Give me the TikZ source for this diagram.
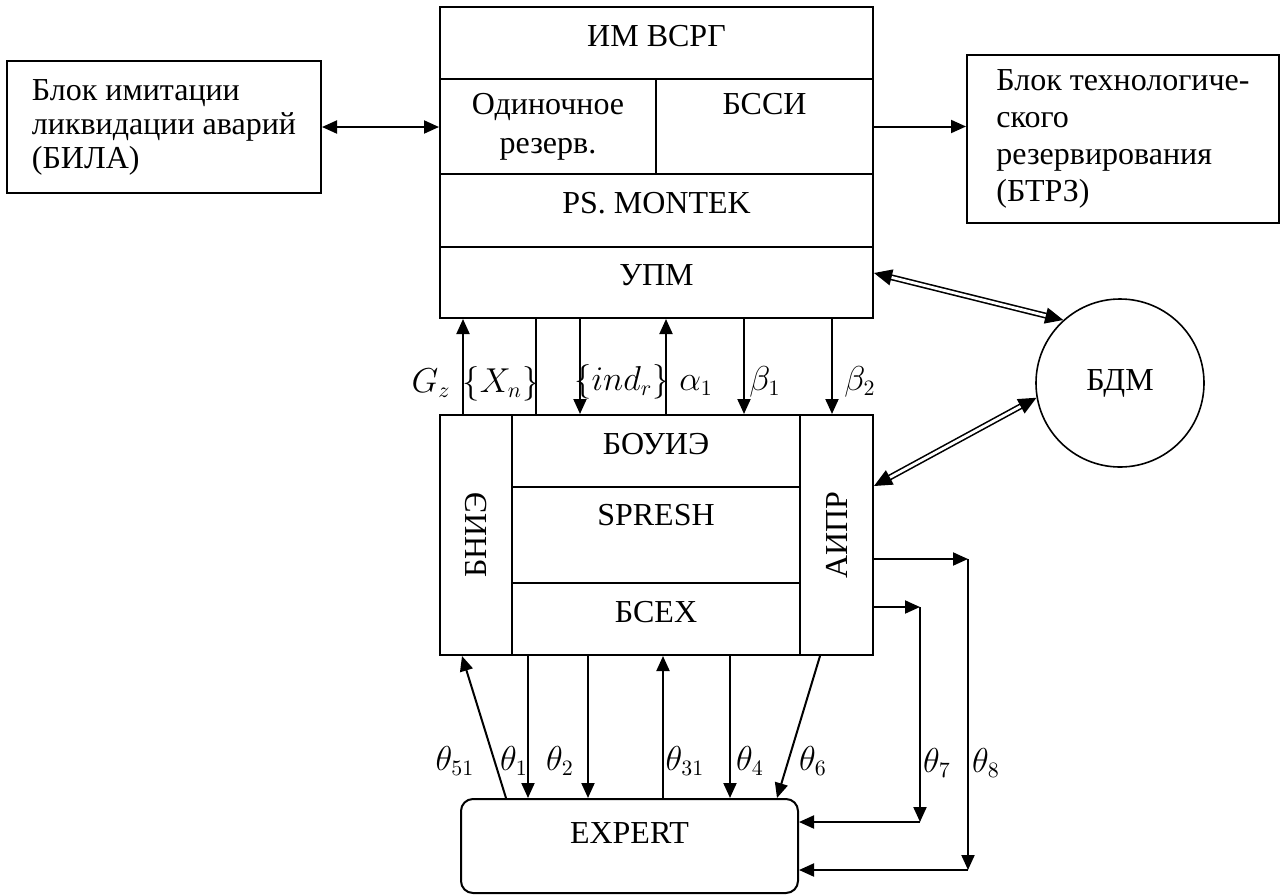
\documentclass[tikz,border=0pt]{standalone}
\usepackage{fontspec}
\setmainfont{Liberation Serif}
\usepackage{graphicx}
\usepackage{tikz}
\usetikzlibrary{arrows.meta}

\begin{document}
\begin{tikzpicture}[
    x=0.5pt, y=-0.5pt,
    font=\fontsize{16pt}{17pt}\selectfont,
    cell/.style={rectangle, draw, line width=1pt, text height=0.67em, text depth=0.37em},
    cellml/.style={rectangle, draw, line width=1pt, align=center, font=\fontsize{16pt}{19.5pt}\selectfont},
    vcol/.style={rectangle, draw, line width=1pt},
    sideblock/.style={rectangle, draw, line width=1pt, align=left},
    arrow/.style={-{Triangle[length=7.5pt,width=6.5pt]}, line width=1pt},
    biarrow/.style={{Triangle[length=7.5pt,width=6.5pt]}-{Triangle[length=7.5pt,width=6.5pt]}, line width=1pt},
    dblarrow/.style={{Triangle[length=9pt,width=8pt]}-{Triangle[length=9pt,width=8pt]}, double, line width=0.8pt, double distance=1.4pt},
    sigline/.style={line width=1pt}
]
\useasboundingbox (0,0) rectangle (1280,895);

% Upper block
\node[cell, minimum width=216.5pt, minimum height=36pt] (imvsrg) at (656.5,43) {ИМ ВСРГ};
\node[cellml, minimum width=108pt, minimum height=47.5pt] (odin) at (548,126.5) {Одиночное\\резерв.};
\node[cellml, minimum width=108.5pt, minimum height=47.5pt] (bssi) at (764.5,126.5) {БССИ\\\vphantom{р}};
\node[cell, minimum width=216.5pt, minimum height=36.5pt] (montek) at (656.5,210.5) {PS. MONTEK};
\node[cell, minimum width=216.5pt, minimum height=35.5pt] (upm) at (656.5,282.5) {УПМ};

% Lower block
\node[vcol, minimum width=36pt, minimum height=120pt] (bnie) at (476,535) {\rotatebox{90}{БНИЭ}};
\node[cell, minimum width=144pt, minimum height=36pt] (boui) at (656,451) {БОУИЭ};
\node[cellml, minimum width=144pt, minimum height=48pt, font=\fontsize{16pt}{17pt}\selectfont] (spresh) at (656,535) {SPRESH\\\vphantom{р}};
\node[cell, minimum width=144pt, minimum height=36pt] (bsex) at (656,619) {БСЕХ};
\node[vcol, minimum width=36.5pt, minimum height=120pt] (aipr) at (836.5,535) {\rotatebox{90}{АИПР}};

% Side blocks
\node[sideblock, minimum width=157pt, minimum height=66pt] (bila) at (164,127) {Блок имитации\\ликвидации аварий\\(БИЛА)};
\node[sideblock, minimum width=156pt, minimum height=84pt, font=\fontsize{16pt}{18.5pt}\selectfont] (btrz) at (1123,139) {Блок технологиче-\\ского\\резервирования\\(БТРЗ)};
\node[circle, draw, line width=0.8pt, minimum size=84pt, inner sep=0pt] (bdm) at (1120,383) {БДМ};
\node[rectangle, rounded corners=6pt, draw, line width=1pt, minimum width=168.5pt, minimum height=47pt,
      text height=0.67em, text depth=0.94em] (expert) at (629.5,846) {EXPERT};

\draw[biarrow] (bila.east) -- (bila.east -| odin.west);
\draw[arrow] (bssi.east) -- (bssi.east -| btrz.west);
\draw[dblarrow] ([yshift=4.75pt]upm.east) -- (bdm.132);
\draw[dblarrow] (bdm.190) -- ([yshift=-36pt]aipr.north east);

% Signals between the two blocks
\coordinate (xgz) at (463,0);
\coordinate (xxn) at (536,0);
\coordinate (xind) at (580,0);
\coordinate (xal) at (666,0);
\coordinate (xb1) at (744,0);
\coordinate (xb2) at (832,0);
\draw[arrow] (bnie.north -| xgz) -- (upm.south -| xgz);
\draw[sigline] (boui.north -| xxn) -- (upm.south -| xxn);
\draw[arrow] (upm.south -| xind) -- (boui.north -| xind);
\draw[arrow] (boui.north -| xal) -- (upm.south -| xal);
\draw[arrow] (upm.south -| xb1) -- (boui.north -| xb1);
\draw[arrow] (upm.south -| xb2) -- (aipr.north -| xb2);

\node[anchor=base] (lgz) at (431,392) {$G_z$};
\node[anchor=base] (lxn) at (501,392) {$\{X_n\}$};
\node[anchor=base] (lind) at (622,390) {$\{ind_r\}$};
\node[anchor=base] (lal) at (696,390) {$\alpha_1$};
\node[anchor=base] (lb1) at (765,390) {$\beta_1$};
\node[anchor=base] (lb2) at (860,390) {$\beta_2$};

% Signals to and from EXPERT
\coordinate (x51e) at (506,0);
\coordinate (x51b) at (462,0);
\coordinate (xt1) at (528,0);
\coordinate (xt2) at (588,0);
\coordinate (xt31) at (663,0);
\coordinate (xt4) at (730,0);
\coordinate (xt6b) at (820,0);
\coordinate (xt6e) at (777,0);
\draw[arrow] (expert.north -| x51e) -- (bnie.south -| x51b);
\draw[arrow] (bsex.south -| xt1) -- (expert.north -| xt1);
\draw[arrow] (bsex.south -| xt2) -- (expert.north -| xt2);
\draw[arrow] (expert.north -| xt31) -- (bsex.south -| xt31);
\draw[arrow] (bsex.south -| xt4) -- (expert.north -| xt4);
\draw[arrow] (aipr.south -| xt6b) -- (expert.north -| xt6e);

\coordinate (t7) at (920,607);
\coordinate (b7) at (920,822);
\coordinate (t8) at (968,559);
\coordinate (b8) at (968,870);
\draw[arrow] (aipr.east |- t7) -- (t7);
\draw[arrow] (t7) -- (b7);
\draw[arrow] (b7) -- (expert.east |- b7);
\draw[arrow] (aipr.east |- t8) -- (t8);
\draw[arrow] (t8) -- (b8);
\draw[arrow] (b8) -- (expert.east |- b8);

\node[anchor=base] (lt51) at (455,770) {$\theta_{51}$};
\node[anchor=base] (lt1) at (514,770) {$\theta_1$};
\node[anchor=base] (lt2) at (560,770) {$\theta_2$};
\node[anchor=base] (lt31) at (685,770) {$\theta_{31}$};
\node[anchor=base] (lt4) at (750,770) {$\theta_4$};
\node[anchor=base] (lt6) at (813,770) {$\theta_6$};
\node[anchor=base] (lt7) at (937,772) {$\theta_7$};
\node[anchor=base] (lt8) at (986,772) {$\theta_8$};

\end{tikzpicture}
\end{document}
